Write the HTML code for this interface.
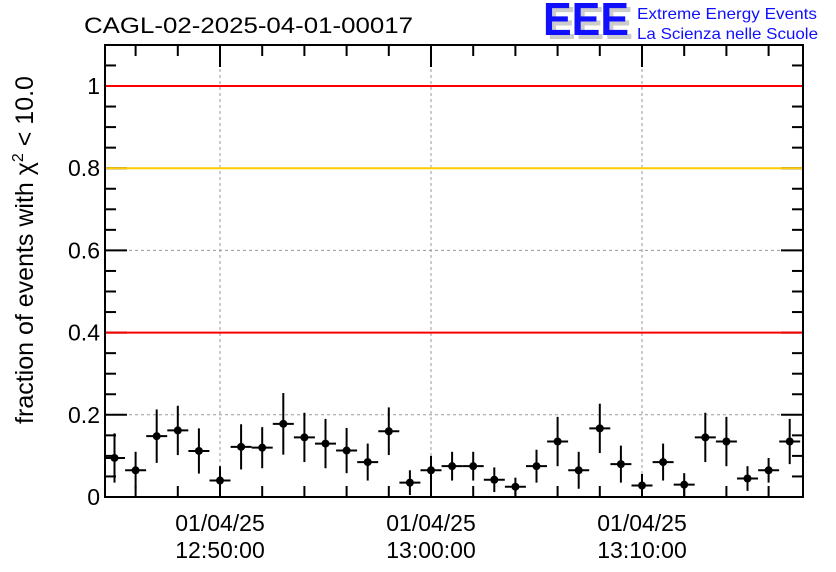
<!DOCTYPE html>
<html><head><meta charset="utf-8"><style>
body{margin:0;background:#fff;}
svg{display:block;font-family:"Liberation Sans",sans-serif;}
</style></head><body>
<svg id="c" width="836" height="572" viewBox="0 0 836 572">
<text x="84" y="33" font-size="22" fill="#000" textLength="329" lengthAdjust="spacingAndGlyphs">CAGL-02-2025-04-01-00017</text>
<g>
<text x="547" y="39" font-size="46" font-weight="bold" fill="#ccc" textLength="86" lengthAdjust="spacingAndGlyphs">EEE</text>
<text x="543" y="35" font-size="46" font-weight="bold" fill="#1010ff" textLength="86" lengthAdjust="spacingAndGlyphs">EEE</text>
<text x="637" y="19" font-size="16" fill="#1010ff" textLength="180" lengthAdjust="spacingAndGlyphs">Extreme Energy Events</text>
<text x="637" y="39" font-size="16" fill="#1010ff" textLength="181" lengthAdjust="spacingAndGlyphs">La Scienza nelle Scuole</text>
</g>
<text transform="translate(33,250) rotate(-90)" text-anchor="middle" font-size="25">fraction of events with χ<tspan dy="-10" font-size="16">2</tspan><tspan dy="10"> &lt; 10.0</tspan></text>
</svg>
<script>
const yTicks=[0,0.2,0.4,0.6,0.8,1];
const yTickLabels=["0","0.2","0.4","0.6","0.8","1"];
const xTickMinutes=[5,15,25];
const xTickDates=["01/04/25","01/04/25","01/04/25"];
const xTickTimes=["12:50:00","13:00:00","13:10:00"];
const refLines=[1,0.8,0.4];
const refColors=["#ff0000","#ffcc00","#ff0000"];
const binMinutes=[0,1,2,3,4,5,6,7,8,9,10,11,12,13,14,15,16,17,18,19,20,21,22,23,24,25,26,27,28,29,30,31,32];
const values=[0.095,0.065,0.148,0.162,0.112,0.04,0.122,0.12,0.178,0.145,0.13,0.113,0.085,0.16,0.035,0.065,0.075,0.075,0.042,0.025,0.075,0.135,0.065,0.167,0.08,0.028,0.085,0.03,0.145,0.135,0.045,0.065,0.135];
const errors=[0.06,0.045,0.065,0.06,0.055,0.035,0.055,0.05,0.075,0.06,0.06,0.055,0.045,0.058,0.03,0.035,0.035,0.035,0.03,0.022,0.04,0.06,0.045,0.06,0.045,0.028,0.045,0.028,0.06,0.06,0.03,0.03,0.055];
const L=105,R=803,T=45,B=497;
const X=m=>220+(m-5)*21.1;
const Y=v=>B-v*411;
const svg=document.getElementById('c');
const NS='http://www.w3.org/2000/svg';
function mk(t,a,p){const e=document.createElementNS(NS,t);for(const k in a)e.setAttribute(k,a[k]);(p||svg).appendChild(e);return e;}
yTicks.forEach(v=>{if(v>0&&v<1){const g=mk('line',{x1:L,x2:R,y1:Y(v),y2:Y(v),stroke:'#999','stroke-dasharray':'3,3'});

}});
xTickMinutes.forEach(m=>{const g=mk('line',{x1:X(m),x2:X(m),y1:T,y2:B,stroke:'#999','stroke-dasharray':'3,3'});

});
for(let v=0;v<=1.1;v+=0.05){const big=Math.abs(v/0.2-Math.round(v/0.2))<1e-6;const len=big?22:11;
mk('line',{x1:L,x2:L+len,y1:Y(v),y2:Y(v),stroke:'#000','stroke-width':2});
mk('line',{x1:R-len,x2:R,y1:Y(v),y2:Y(v),stroke:'#000','stroke-width':2});}
for(let m=-1;m<=33;m+=2){const x=X(m);if(x<L||x>R)continue;const big=(m-5)%10===0;const len=big?22:11;
mk('line',{x1:x,x2:x,y1:B-len,y2:B,stroke:'#000','stroke-width':2});
mk('line',{x1:x,x2:x,y1:T,y2:T+len,stroke:'#000','stroke-width':2});}
refLines.forEach((v,i)=>{const l=mk('line',{x1:L,x2:R,y1:Y(v),y2:Y(v),stroke:refColors[i],'stroke-width':2});

});
yTicks.forEach((v,i)=>{const t=mk('text',{x:L-5,y:Y(v)+8,'text-anchor':'end','font-size':23});t.textContent=yTickLabels[i];

});
xTickMinutes.forEach((m,i)=>{const t=mk('text',{x:X(m),y:531,'text-anchor':'middle','font-size':23});t.textContent=xTickDates[i];


const t2=mk('text',{x:X(m),y:558,'text-anchor':'middle','font-size':23});t2.textContent=xTickTimes[i];

});
binMinutes.forEach((m,i)=>{const g=mk('g',{});


const x=X(m),y=Y(values[i]);
mk('line',{x1:Math.max(L,x-10.5),x2:Math.min(R,x+10.5),y1:y,y2:y,stroke:'#000','stroke-width':2},g);
mk('line',{x1:x,x2:x,y1:Y(values[i]+errors[i]),y2:Math.min(B,Y(values[i]-errors[i])),stroke:'#000','stroke-width':2},g);
mk('circle',{cx:x,cy:y,r:4,fill:'#000'},g);});
const f=mk('rect',{x:L,y:T,width:R-L,height:B-T,fill:'none',stroke:'#000','stroke-width':2});


</script>
</body></html>
